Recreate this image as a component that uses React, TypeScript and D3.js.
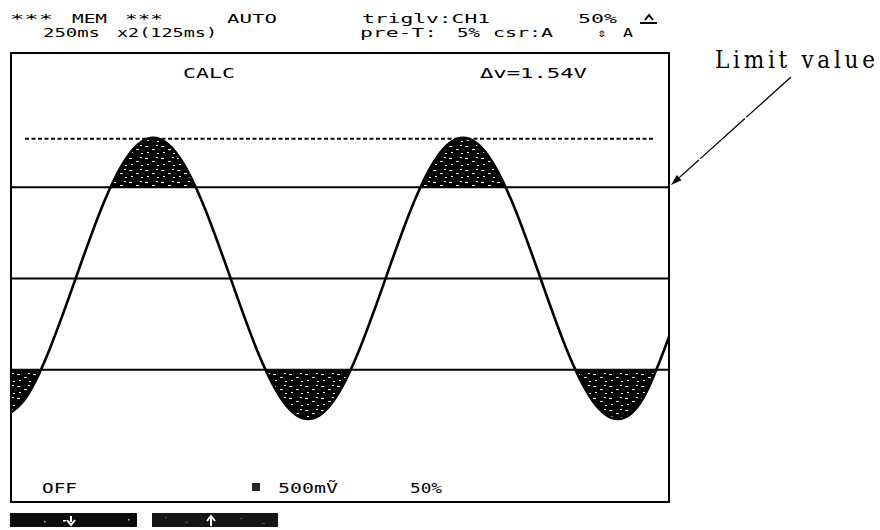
import React from "react";
import * as d3 from "d3";

// ---- data ----
// time in screen divisions (0..10), value in volts
const waveT = [-0.195, 0.198, 0.59, 0.983, 1.375, 1.768, 2.16, 2.553, 2.945, 3.338, 3.73, 4.123, 4.515, 4.908, 5.3, 5.693, 6.085, 6.478, 6.87, 7.263, 7.655, 8.048, 8.44, 8.833, 9.225, 9.618, 10.01];
const waveV = [-1.54, -1.334, -0.77, 0, 0.77, 1.334, 1.54, 1.334, 0.77, 0, -0.77, -1.334, -1.54, -1.334, -0.77, 0, 0.77, 1.334, 1.54, 1.334, 0.77, 0, -0.77, -1.334, -1.54, -1.3, -0.62];
const limitLevels = [1, 0, -1];
const peakLevel = 1.53;
const headerLine1 = ["***", "MEM", "***", "AUTO", "triglv:CH1", "50%"];
const headerLine2 = ["250ms", "x2(125ms)", "pre-T:", "5%", "csr:A", "\u21D5", "A"];
const calcLabel = "CALC";
const deltaLabel = "\u0394v=1.54V";
const bottomLabels = ["OFF", "500mV\u0303", "50%"];
const annotation = "Limit value";

const W = 880;
const H = 530;
const L = 11, R = 669, T = 53, B = 502;

const x = d3.scaleLinear().domain([0, 10]).range([L, R]);
const y = d3.scaleLinear().domain([-2.45, 2.47]).range([B, T]);

const pts: [number, number][] = waveT.map((t, i) => [t, waveV[i]]);

const line = d3.line<[number, number]>().x(d => x(d[0])).y(d => y(d[1])).curve(d3.curveNatural);
const areaTop = d3.area<[number, number]>().x(d => x(d[0])).y0(y(1)).y1(d => y(d[1])).curve(d3.curveNatural);
const areaBot = d3.area<[number, number]>().x(d => x(d[0])).y0(y(-1)).y1(d => y(d[1])).curve(d3.curveNatural);

const scr = "'DejaVu Sans Mono', monospace";

const l1x = [10, 72, 125, 227, 362, 578];
const l1w = [43, 35, 38, 50, 128, 39];
const l2x = [43, 117, 360, 457, 493, 597, 623];
const l2w = [57, 100, 77, 23, 60, 10, 10];

export default function App() {
  // arrow geometry
  const ax0 = 791, ay0 = 77, ax1 = 671, ay1 = 185;
  const len = Math.hypot(ax1 - ax0, ay1 - ay0);
  const ux = (ax1 - ax0) / len, uy = (ay1 - ay0) / len;
  const hl = 11, hw = 3.5;
  const bx = ax1 - ux * hl, by = ay1 - uy * hl;
  const head = `M${ax1},${ay1} L${bx - uy * hw},${by + ux * hw} L${bx + uy * hw},${by - ux * hw} Z`;

  return (
    <svg width={W} height={H} style={{ position: "absolute", left: 0, top: 0, background: "#fff" }}>
      <defs>
        <clipPath id="plot"><rect x={L} y={T} width={R - L} height={B - T} /></clipPath>
        <clipPath id="above"><rect x={L} y={T} width={R - L} height={y(1) - T} /></clipPath>
        <clipPath id="below"><rect x={L} y={y(-1)} width={R - L} height={B - y(-1)} /></clipPath>
        <pattern id="speckle" width="16" height="12" patternUnits="userSpaceOnUse">
          <rect width="16" height="12" fill="#000" />
          <rect x="1" y="2" width="3" height="1" fill="#fff" />
          <rect x="8" y="5" width="3" height="1" fill="#fff" />
          <rect x="3" y="8" width="2" height="1" fill="#fff" />
          <rect x="12" y="1" width="2" height="1" fill="#fff" />
          <rect x="13" y="9" width="2" height="1" fill="#fff" />
        </pattern>
      </defs>

      {/* shaded excess areas */}
      <g clipPath="url(#plot)">
        <g clipPath="url(#above)">
          <path d={areaTop(pts) || ""} fill="url(#speckle)" />
        </g>
        <g clipPath="url(#below)">
          <path d={areaBot(pts) || ""} fill="url(#speckle)" />
        </g>
        <path d={line(pts) || ""} fill="none" stroke="#000" strokeWidth={2.6} />
      </g>

      {/* limit / reference lines */}
      {limitLevels.map(v => (
        <line key={v} x1={L} x2={R} y1={y(v)} y2={y(v)} stroke="#000" strokeWidth={2} />
      ))}
      <line x1={25} x2={654} y1={y(peakLevel)} y2={y(peakLevel)} stroke="#000" strokeWidth={2} strokeDasharray="4 2.5" />

      {/* frame */}
      <rect x={L} y={T} width={R - L} height={B - T} fill="none" stroke="#000" strokeWidth={2} />

      {/* header */}
      <g fontFamily={scr} fontSize={12} fill="#000">
        {headerLine1.map((s, i) => (
          <text key={"a" + i} x={l1x[i]} y={23} textLength={l1w[i]} lengthAdjust="spacingAndGlyphs">{s}</text>
        ))}
        {headerLine2.map((s, i) => (
          <text key={"b" + i} x={l2x[i]} y={37} textLength={l2w[i]} lengthAdjust="spacingAndGlyphs">{s}</text>
        ))}
        <path d="M640,23 L657,23 M645,20 L649,15 L653,20" stroke="#000" strokeWidth={2} fill="none" />
      </g>
      <g fontFamily={scr} fontSize={14} fill="#000">
        <text x={183} y={78} textLength={52} lengthAdjust="spacingAndGlyphs">{calcLabel}</text>
        <text x={480} y={78} textLength={107} lengthAdjust="spacingAndGlyphs">{deltaLabel}</text>

        <text x={42} y={493} textLength={35} lengthAdjust="spacingAndGlyphs">{bottomLabels[0]}</text>
        <rect x={252} y={483} width={8} height={8} fill="#222" />
        <text x={278} y={493} textLength={60} lengthAdjust="spacingAndGlyphs">{bottomLabels[1]}</text>
        <text x={410} y={493} textLength={32} lengthAdjust="spacingAndGlyphs">{bottomLabels[2]}</text>
      </g>

      {/* soft-key buttons */}
      <rect x={10} y={513} width={127} height={14} fill="#0b0b0b" />
      <rect x={152} y={513} width={126} height={14} fill="#151515" />
      <g fill="#bbb" stroke="none">
        <rect x={44} y={521} width={1.5} height={1.5} />
        <rect x={63} y={520} width={3} height={1.5} fill="#fff" />
        <rect x={128} y={519} width={1.5} height={1.5} />
        <rect x={165} y={517} width={2} height={1} fill="#555" />
        <rect x={185} y={522} width={3} height={1} fill="#555" />
        <rect x={240} y={518} width={2} height={1} fill="#555" />
        <rect x={262} y={523} width={3} height={1} fill="#555" />
      </g>
      <path d="M71,516 L71,522 M67,520 L71,525 L75,520" stroke="#fff" strokeWidth={2} fill="none" />
      <path d="M211,526 L211,518 M207,521 L211,516 L215,521" stroke="#fff" strokeWidth={2} fill="none" />

      {/* annotation */}
      <text x={715} y={68} fontFamily="'DejaVu Serif Condensed', 'DejaVu Serif', serif" fontStretch="condensed" fontSize={24} textLength={160} lengthAdjust="spacing" fill="#000">{annotation}</text>
      <line x1={ax0} y1={ay0} x2={bx} y2={by} stroke="#000" strokeWidth={1.3} strokeDasharray="60 2" />
      <path d={head} fill="#000" />
    </svg>
  );
}
